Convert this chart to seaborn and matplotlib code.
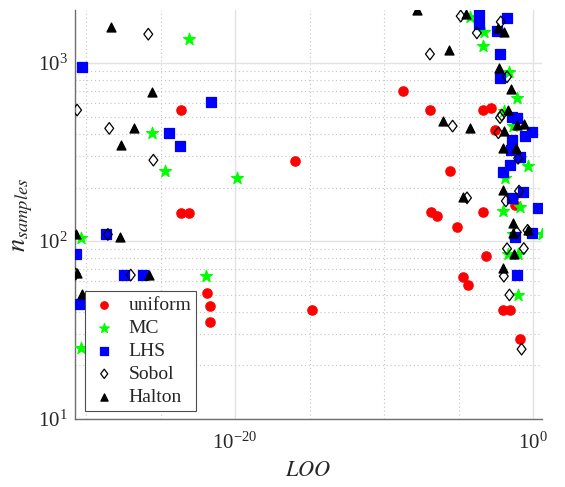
import pandas as pd
import matplotlib
matplotlib.use('Agg')
import matplotlib.pyplot as plt
from matplotlib.path import Path
from matplotlib.ticker import NullFormatter, LogLocator
import seaborn as sns

# LOO error vs number of samples, one pair of lists per sampling method
uniform_loo = [2.2e-24, 2.2e-24, 8e-24, 1.3e-22, 2.1e-22, 2.1e-22, 1.1e-16, 1.5e-15, 1.8e-9,
               1.3e-7, 4.2e-4, 1.5e-3, 2.8e-3, 2.7e-6, 1.4e-7, 3.8e-7, 7.6e-6, 4.6e-4, 7e-4,
               1.9e-5, 4.6e-5, 1e-2, 2.9e-2, 0.13, 0.048, 0.062]
uniform_n = [545, 144, 144, 51, 43, 35, 281, 41, 698, 545, 545, 558, 421, 247, 145, 138, 120,
             145, 82, 63, 57, 41, 41, 28, 174, 159]

mc_loo = [8e-24, 2.6e-26, 2.1e-25, 1.3e-20, 4.4e-31, 1.1e-22, 4.4e-31, 5.9e-5, 5.4e-4, 4.6e-4,
          0.024, 0.078, 0.011, 0.046, 0.134, 0.48, 0.013, 0.010, 0.134, 4.0, 0.048, 0.022,
          0.10, 0.10]
mc_n = [1365, 403, 248, 225, 104, 64, 25, 1820, 1500, 1250, 893, 638, 537, 443, 292, 264, 226,
        148, 155, 110, 110, 85, 85, 50]

lhs_loo = [5.1e-31, 2.5e-22, 3.7e-25, 2.0e-24, 2.1e-29, 2.1e-31, 3.7e-28, 6.7e-27, 4e-31,
           2.4e-4, 2.4e-4, 0.017, 3.6e-3, 6.1e-3, 6.1e-3, 0.037, 0.081, 0.82, 0.29, 0.037,
           0.033, 0.134, 0.029, 9.3e-3, 0.22, 0.037, 2.1, 0.82, 0.062, 0.081]
lhs_n = [953, 607, 405, 343, 110, 84.5, 64.4, 64.4, 44.3, 1885, 1655, 1800, 1517, 1133, 824,
         499, 489, 411, 389, 372, 324, 295, 267, 245, 189, 175, 154, 111, 106, 64.7]

sobol_loo = [1.5e-26, 2.5e-31, 3.6e-29, 3.3e-26, 2.9e-29, 2e-31, 1e-27, 1.4e-5, 1.7e-4, 6.8e-3,
             1.2e-7, 0.018, 4e-6, 7.9e-3, 6.1e-3, 4.7e-3, 0.10, 0.115, 0.015, 3.7e-5, 0.081,
             0.43, 0.018, 0.24, 0.011, 0.026, 0.17]
sobol_n = [1455, 545, 430, 285, 109, 65.3, 64.4, 1838, 1479, 1706, 1125, 838, 443, 511, 494,
           406, 292, 191, 168, 175, 112, 115, 90.6, 90.8, 63.5, 49.8, 24.7]

halton_loo = [4.6e-29, 2.6e-26, 1.7e-27, 2.2e-28, 2.2e-31, 1.9e-28, 1.8e-26, 2.4e-31, 5.1e-31,
              1.6e-8, 3.2e-5, 2.4e-6, 8.7e-7, 5.9e-5, 4.7e-3, 0.012, 5.5e-3, 0.033, 0.022,
              0.081, 0.26, 0.011, 0.010, 0.072, 9.3e-3, 0.043, 0.046, 0.48, 0.049, 9.3e-3, 2.1e-5]
halton_n = [1600, 690, 434, 349, 110, 106, 64.4, 65.8, 50.4, 1985, 1890, 1178, 476, 431, 1578,
            1500, 937, 716, 542, 449, 454, 416, 335, 335, 194, 127, 111, 116, 84.5, 71, 176]

methods = ['uniform', 'MC', 'LHS', 'Sobol', 'Halton']


def build_frame():
    parts = []
    for name, loo, n in zip(methods,
                            [uniform_loo, mc_loo, lhs_loo, sobol_loo, halton_loo],
                            [uniform_n, mc_n, lhs_n, sobol_n, halton_n]):
        parts.append(pd.DataFrame({'LOO': loo, 'n': n, 'method': name}))
    return pd.concat(parts, ignore_index=True)


def main() -> None:
    sns.set_style('white')
    plt.rcParams['font.family'] = ['Liberation Serif', 'DejaVu Serif']
    plt.rcParams['mathtext.fontset'] = 'stix'

    df = build_frame()

    # matlab style diamond, a bit wider than matplotlib's thin one
    diamond = Path([(0, 1), (0.76, 0), (0, -1), (-0.76, 0), (0, 1)],
                   [Path.MOVETO, Path.LINETO, Path.LINETO, Path.LINETO, Path.CLOSEPOLY])

    # marker, face, edge, size
    styles = {
        'uniform': ('o', '#ff0000', '#ff0000', 45),
        'MC': ('*', '#00ff00', '#00ff00', 80),
        'LHS': ('s', '#0000ff', '#0000ff', 50),
        'Sobol': (diamond, 'none', 'black', 70),
        'Halton': ('^', 'black', 'black', 42),
    }

    fig, ax = plt.subplots(figsize=(5.65, 4.87), dpi=100)
    fig.subplots_adjust(left=0.1327, right=0.9593, bottom=0.1396, top=0.9795)

    for m in methods:
        mk, fc, ec, s = styles[m]
        sns.scatterplot(data=df[df['method'] == m], x='LOO', y='n', ax=ax,
                        marker=mk, color=ec, facecolor=fc, edgecolor=ec,
                        linewidth=0.9, s=s, label=m, legend=False, zorder=3)

    ax.set_xscale('log')
    ax.set_yscale('log')
    ax.set_xlim(1.8e-31, 4.0)
    ax.set_ylim(10, 1990)

    ax.set_xticks([1e-20, 1e0])
    ax.set_xticks([1e-30, 1e-25, 1e-15, 1e-10, 1e-5], minor=True)
    ax.xaxis.set_minor_formatter(NullFormatter())
    ax.yaxis.set_major_locator(LogLocator(base=10))
    ax.yaxis.set_minor_locator(LogLocator(base=10, subs=range(2, 10)))
    ax.yaxis.set_minor_formatter(NullFormatter())

    ax.set_axisbelow(True)
    ax.grid(which='major', color='#e2e2e2', linestyle='-', linewidth=1.0)
    ax.grid(which='minor', color='#c4c4c4', linestyle=(0, (1, 2.5)), linewidth=0.8)

    sns.despine(ax=ax)
    for side in ['left', 'bottom']:
        ax.spines[side].set_color('#6e6e6e')
        ax.spines[side].set_linewidth(1.0)

    ax.tick_params(which='both', direction='in', colors='#6e6e6e', labelcolor='#262626',
                   labelsize=15)
    ax.tick_params(axis='y', which='major', length=5, pad=5)
    ax.tick_params(axis='y', which='minor', length=4)
    ax.tick_params(axis='x', which='major', length=4, pad=10)
    ax.tick_params(axis='x', which='minor', length=3)

    ax.set_xlabel(r'$LOO$', fontsize=16, color='#262626', labelpad=6)
    ax.set_ylabel(r'$n_{samples}$', fontsize=19, color='#262626', labelpad=2)

    leg = ax.legend(loc='lower left', bbox_to_anchor=(0.021, 0.02), borderaxespad=0,
                    fontsize=14, frameon=True, fancybox=False, framealpha=1,
                    edgecolor='#4d4d4d', handletextpad=0.5, labelspacing=0.28,
                    borderpad=0.25, handlelength=1.5, markerscale=0.8)
    leg.get_frame().set_linewidth(0.8)

    fig.savefig('out.png', dpi=100)


if __name__ == "__main__":
    main()
